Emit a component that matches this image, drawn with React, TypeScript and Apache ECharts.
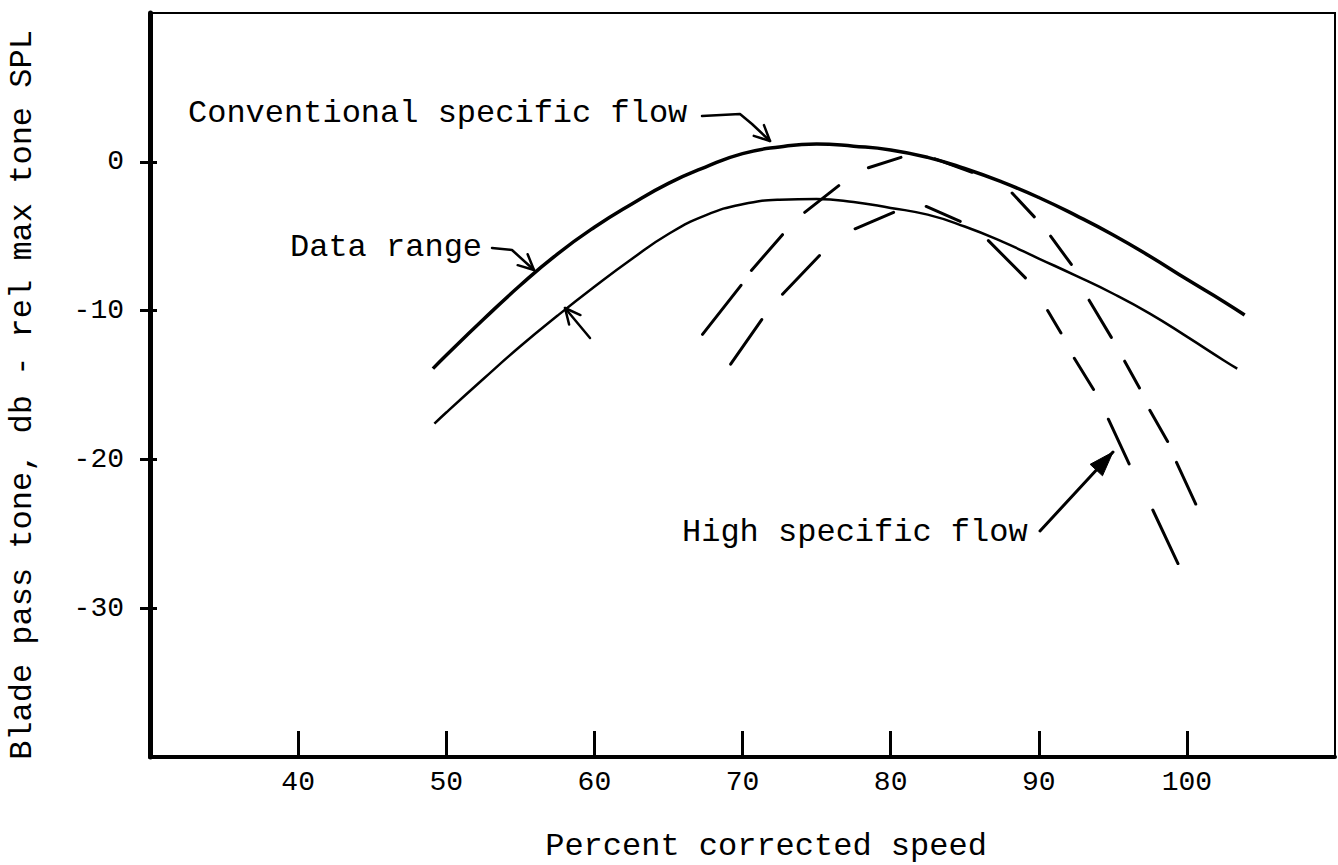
import React, { useEffect, useRef } from "react";
import * as echarts from "echarts";

// ---- axis ranges and ticks ----
const xRange = [30, 110];
const yRange = [-40, 10];
const xTickValues = [40, 50, 60, 70, 80, 90, 100];
const yTickValues = [-30, -20, -10, 0];

// ---- texts ----
const xAxisTitle = "Percent corrected speed";
const yAxisTitle = "Blade pass tone, db - rel max tone SPL";
const labelConventional = "Conventional specific flow";
const labelDataRange = "Data range";
const labelHighFlow = "High specific flow";

// ---- solid curves: conventional specific flow, data range band ----
const conventionalUpper: [number, number][] = [
  [49.1, -13.9], [50, -13.0], [52.5, -10.6], [55, -8.3], [57.5, -6.2],
  [60, -4.4], [62.5, -2.85], [65, -1.45], [67.5, -0.35], [70, 0.55],
  [72.5, 1.0], [75, 1.2], [77.5, 1.05], [80, 0.8], [82.5, 0.3],
  [85, -0.45], [87.5, -1.35], [90, -2.4], [92.5, -3.6], [95, -4.9],
  [97.5, -6.35], [100, -7.9], [102.5, -9.4], [103.9, -10.3],
];
const conventionalLower: [number, number][] = [
  [49.2, -17.6], [50, -16.85], [52.5, -14.6], [55, -12.4], [57.5, -10.35],
  [60, -8.4], [62.5, -6.55], [65, -4.85], [67.5, -3.6], [70, -2.85],
  [72.5, -2.55], [75, -2.5], [77.5, -2.7], [80, -3.1], [82.5, -3.55],
  [85, -4.35], [87.5, -5.35], [90, -6.5], [92.5, -7.65], [95, -8.85],
  [97.5, -10.2], [100, -11.75], [102.5, -13.35], [103.4, -13.9],
];

// ---- dashed curves: high specific flow (each pair = one hand-drawn dash) ----
const highFlowUpper: [number, number][][] = [
  [[67.3, -11.6], [69.9, -8.3]],
  [[70.6, -7.3], [72.7, -4.9]],
  [[74.2, -3.4], [76.5, -1.6]],
  [[78.5, -0.4], [80.7, 0.3]],
  [[83.0, 0.2], [85.5, -0.7]],
  [[88.2, -2.1], [89.7, -3.7]],
  [[90.8, -5.0], [92.2, -6.9]],
  [[93.4, -9.3], [94.9, -11.8]],
  [[95.8, -13.4], [96.8, -15.2]],
  [[97.5, -16.7], [98.7, -18.8]],
  [[99.3, -20.2], [100.6, -23.0]],
];
const highFlowLower: [number, number][][] = [
  [[69.2, -13.6], [71.3, -10.6]],
  [[72.7, -8.9], [75.2, -6.3]],
  [[77.6, -4.5], [80.2, -3.4]],
  [[82.4, -3.0], [84.7, -4.0]],
  [[86.6, -5.3], [89.1, -7.8]],
  [[90.6, -10.0], [91.5, -11.5]],
  [[92.4, -13.2], [93.7, -15.3]],
  [[94.7, -17.3], [96.1, -20.3]],
  [[97.7, -23.4], [99.4, -27.0]],
];

const FONT = '"Liberation Mono", "Courier New", monospace';

function withBreaks(segs: [number, number][][]) {
  const out: any[] = [];
  segs.forEach((s, i) => {
    if (i > 0) out.push([s[0][0], null]);
    s.forEach((p) => out.push(p));
  });
  return out;
}

function head(tip: number[], from: number[], len: number, ang: number) {
  const a = Math.atan2(from[1] - tip[1], from[0] - tip[0]);
  return [
    [tip[0] + len * Math.cos(a + ang), tip[1] + len * Math.sin(a + ang)],
    tip,
    [tip[0] + len * Math.cos(a - ang), tip[1] + len * Math.sin(a - ang)],
  ];
}

function txt(text: string, x: number, y: number, size: number, align = "left", rotation = 0) {
  return {
    type: "text",
    x,
    y,
    rotation,
    silent: true,
    style: {
      text,
      fill: "#000",
      font: `${size}px ${FONT}`,
      align,
      textAlign: align,
      verticalAlign: "middle",
      textVerticalAlign: "middle",
    },
  };
}

function line(points: number[][], w = 2.5) {
  return {
    type: "polyline",
    silent: true,
    shape: { points },
    style: { stroke: "#000", lineWidth: w, fill: null, lineJoin: "round", lineCap: "round" },
  };
}

export default function App() {
  const ref = useRef<HTMLDivElement>(null);

  useEffect(() => {
    document.body.style.margin = "0";
    const chart = echarts.init(ref.current!, null, { renderer: "svg" });

    const convTip = [770, 141];
    const convBend = [752, 124];
    const drTip = [534, 270];
    const drBend = [512, 250];
    const dr2Tip = [565, 308];
    const dr2Tail = [590, 338];
    const hfTip = [1113, 452];
    const hfTail = [1040, 531];

    const graphic: any[] = [
      txt(yAxisTitle, 22, 395, 32, "center", Math.PI / 2),
      txt(xAxisTitle, 766, 846, 32, "center"),
      txt(labelConventional, 188, 113, 32),
      txt(labelDataRange, 290, 247, 32),
      txt(labelHighFlow, 682, 532, 32),
      line([[702, 116], [740, 114], convBend, convTip]),
      line(head(convTip, convBend, 17, 0.45)),
      line([[492, 248], drBend, drTip]),
      line(head(drTip, drBend, 17, 0.45)),
      line([dr2Tail, dr2Tip]),
      line(head(dr2Tip, dr2Tail, 17, 0.45)),
      line([hfTail, hfTip], 3),
      {
        type: "polygon",
        silent: true,
        shape: { points: head(hfTip, hfTail, 26, 0.33) },
        style: { fill: "#000", stroke: "#000", lineWidth: 1 },
      },
    ];

    chart.setOption({
      animation: false,
      backgroundColor: "#fff",
      textStyle: { fontFamily: FONT, color: "#000" },
      grid: {
        left: 150,
        right: 3,
        top: 13,
        bottom: 108,
        show: true,
        borderColor: "#000",
        borderWidth: 2,
        outerBoundsMode: "none",
      },
      xAxis: {
        type: "value",
        min: xRange[0],
        max: xRange[1],
        interval: 10,
        axisLine: { show: true, onZero: false, lineStyle: { color: "#000", width: 4 } },
        axisTick: {
          show: true,
          inside: true,
          length: 26,
          lineStyle: { color: "#000", width: 3 },
          customValues: xTickValues,
        },
        axisLabel: {
          color: "#000",
          fontFamily: FONT,
          fontSize: 28,
          margin: 11,
          customValues: xTickValues,
        },
        splitLine: { show: false },
      },
      yAxis: [
        {
          type: "value",
          min: yRange[0],
          max: yRange[1],
          interval: 10,
          axisLine: { show: true, onZero: false, lineStyle: { color: "#000", width: 5 } },
          axisTick: {
            show: true,
            length: 10,
            lineStyle: { color: "#000", width: 3 },
            customValues: yTickValues,
          },
          axisLabel: {
            color: "#000",
            fontFamily: FONT,
            fontSize: 28,
            margin: 26,
            customValues: yTickValues,
          },
          splitLine: { show: false },
        },
        {
          type: "value",
          position: "left",
          min: yRange[0],
          max: yRange[1],
          interval: 10,
          axisLine: { show: false, onZero: false },
          axisTick: {
            show: true,
            inside: true,
            length: 7,
            lineStyle: { color: "#000", width: 3 },
            customValues: yTickValues,
          },
          axisLabel: { show: false },
          splitLine: { show: false },
        },
      ],
      series: [
        {
          type: "line",
          data: conventionalUpper,
          smooth: 0.5,
          symbol: "none",
          lineStyle: { color: "#000", width: 3.5 },
        },
        {
          type: "line",
          data: conventionalLower,
          smooth: 0.5,
          symbol: "none",
          lineStyle: { color: "#000", width: 2.5 },
        },
        {
          type: "line",
          data: withBreaks(highFlowUpper),
          symbol: "none",
          connectNulls: false,
          lineStyle: { color: "#000", width: 3, cap: "round" },
        },
        {
          type: "line",
          data: withBreaks(highFlowLower),
          symbol: "none",
          connectNulls: false,
          lineStyle: { color: "#000", width: 3, cap: "round" },
        },
      ],
      graphic,
    });

    return () => chart.dispose();
  }, []);

  return <div ref={ref} style={{ width: "1338px", height: "865px" }} />;
}
